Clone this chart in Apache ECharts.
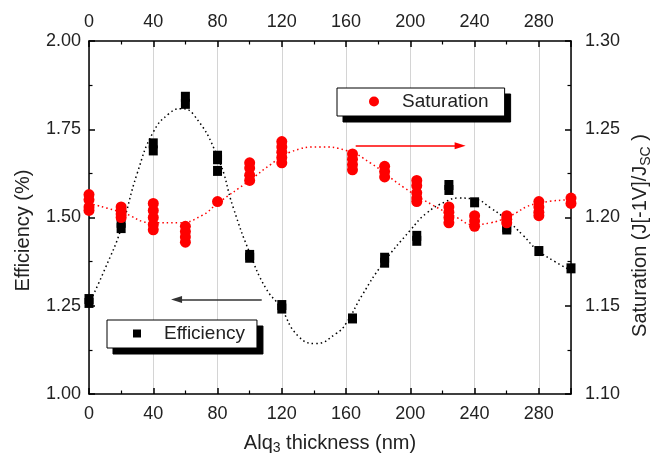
<!DOCTYPE html>
<html>
<head>
<meta charset="utf-8">
<script src="https://cdn.jsdelivr.net/npm/echarts@6/dist/echarts.min.js"></script>
<style>
  html, body { margin: 0; padding: 0; background: #fff; }
  #chart { width: 652px; height: 454px; }
</style>
</head>
<body>
<div id="chart"></div>
<script>
// Alq3 layer thickness (nm) for each measured device
const efficiencyX = [0, 0, 20, 20, 40, 40, 60, 60, 80, 80, 80, 100, 100, 120, 120, 164, 184, 184, 204, 204, 224, 224, 240, 260, 260, 280, 300];
// Power conversion efficiency (%)
const efficiencyY = [1.269, 1.258, 1.470, 1.485, 1.690, 1.710, 1.822, 1.842, 1.675, 1.665, 1.632, 1.394, 1.386, 1.252, 1.242, 1.214, 1.386, 1.372, 1.448, 1.434, 1.592, 1.578, 1.543, 1.472, 1.466, 1.405, 1.356];

const saturationX = [0, 0, 0, 0, 20, 20, 20, 20, 40, 40, 40, 40, 40, 60, 60, 60, 60, 80, 100, 100, 100, 100, 120, 120, 120, 120, 120, 164, 164, 164, 164, 184, 184, 184, 204, 204, 204, 204, 204, 224, 224, 224, 224, 240, 240, 240, 260, 260, 260, 280, 280, 280, 280, 300, 300];
// Saturation ratio J[-1V]/Jsc
const saturationY = [1.213, 1.210, 1.206, 1.204, 1.206, 1.204, 1.202, 1.200, 1.208, 1.204, 1.200, 1.196, 1.193, 1.195, 1.192, 1.189, 1.186, 1.209, 1.231, 1.228, 1.224, 1.221, 1.243, 1.240, 1.237, 1.234, 1.231, 1.236, 1.233, 1.230, 1.227, 1.229, 1.226, 1.223, 1.221, 1.218, 1.214, 1.211, 1.209, 1.206, 1.203, 1.200, 1.197, 1.201, 1.198, 1.195, 1.201, 1.199, 1.197, 1.209, 1.206, 1.203, 1.201, 1.211, 1.208];

// Guide-to-the-eye curves
const effFitX = [0, 10, 20, 30, 40, 50, 57, 65, 80, 90, 100, 110, 119, 130, 141, 154, 160, 170, 183, 200, 210, 222, 230, 240, 250, 260, 270, 279, 290, 300];
const effFitY = [1.255, 1.355, 1.468, 1.625, 1.742, 1.795, 1.808, 1.792, 1.672, 1.525, 1.400, 1.300, 1.247, 1.165, 1.143, 1.172, 1.200, 1.280, 1.370, 1.464, 1.512, 1.545, 1.555, 1.552, 1.527, 1.493, 1.450, 1.408, 1.375, 1.350];
const satFitX = [0, 20, 40, 56, 70, 80, 100, 113, 125, 144, 160, 175, 196, 214, 229, 239, 250, 260, 279, 300];
const satFitY = [1.208, 1.203, 1.197, 1.197, 1.201, 1.208, 1.221, 1.230, 1.237, 1.240, 1.238, 1.231, 1.217, 1.207, 1.200, 1.196, 1.197, 1.200, 1.208, 1.210];

// Direction arrows in data units (efficiency -> left axis, saturation -> right axis)
const effArrow = [[107.5, 1.268], [54.5, 1.268]];
const satArrow = [[166, 1.2407], [231, 1.2407]];

const xTicks = { min: 0, max: 300, interval: 40 };
const effTicks = { min: 1.0, max: 2.0, interval: 0.25 };
const satTicks = { min: 1.10, max: 1.30, interval: 0.05 };

const FONT = 'Liberation Sans, Arial, sans-serif';
const TXT = '#222';

const zip = (xs, ys) => xs.map((x, i) => [x, ys[i]]);

const axisBase = {
  axisLine: { show: true, onZero: false, lineStyle: { color: '#000', width: 1.5 } },
  axisTick: { show: true, inside: true, length: 6, lineStyle: { color: '#000', width: 1.5 } },
  minorTick: { show: true, splitNumber: 2, length: 3.5, lineStyle: { color: '#000', width: 1.2 } },
  axisLabel: { color: TXT, fontFamily: FONT, fontSize: 18 },
  splitLine: { show: false }
};

const nameRich = {
  a: { fontFamily: FONT, fontSize: 20, color: TXT },
  s: { fontFamily: FONT, fontSize: 14, color: TXT, verticalAlign: 'bottom', padding: [10, 0, 0, 0] }
};

// A legend box with a hard black drop shadow: a black copy sits underneath, offset by 6px
function legendBox(name, icon, size, left, top, padding) {
  const common = {
    data: [name], orient: 'horizontal', icon: icon,
    itemWidth: size, itemHeight: size, padding: padding,
    borderWidth: 1, selectedMode: false
  };
  return [
    Object.assign({}, common, {
      left: left + 6, top: top + 6, z: 9,
      backgroundColor: '#000', borderColor: '#000',
      itemStyle: { color: '#000' },
      textStyle: { fontFamily: FONT, fontSize: 19, color: '#000', padding: [0, 0, 0, 18] }
    }),
    Object.assign({}, common, {
      left: left, top: top, z: 10,
      backgroundColor: '#fff', borderColor: '#000',
      textStyle: { fontFamily: FONT, fontSize: 19, color: TXT, padding: [0, 0, 0, 18] }
    })
  ];
}

const chart = echarts.init(document.getElementById('chart'), null, { renderer: 'canvas' });

chart.setOption({
  animation: false,
  backgroundColor: '#fff',
  grid: { left: 89, right: 81, top: 41, bottom: 60, containLabel: false, outerBoundsMode: 'none' },
  xAxis: [
    Object.assign({}, axisBase, {
      type: 'value', position: 'bottom', ...xTicks,
      axisLabel: Object.assign({}, axisBase.axisLabel, { margin: 11, showMaxLabel: false }),
      splitLine: { show: true, lineStyle: { color: '#d4d4d4', width: 1 } },
      name: '{a|Alq}{s|3}{a| thickness (nm)}',
      nameLocation: 'middle', nameGap: 37,
      nameTextStyle: { rich: nameRich }
    }),
    Object.assign({}, axisBase, {
      type: 'value', position: 'top', ...xTicks,
      axisLabel: Object.assign({}, axisBase.axisLabel, { margin: 10, showMaxLabel: false })
    })
  ],
  yAxis: [
    Object.assign({}, axisBase, {
      type: 'value', position: 'left', ...effTicks,
      axisLabel: Object.assign({}, axisBase.axisLabel, { margin: 8, formatter: v => v.toFixed(2) }),
      name: 'Efficiency (%)', nameLocation: 'middle', nameGap: 56,
      nameTextStyle: { fontFamily: FONT, fontSize: 20, color: TXT, padding: [0, 26, 0, 0] }
    }),
    Object.assign({}, axisBase, {
      type: 'value', position: 'right', ...satTicks,
      axisLabel: Object.assign({}, axisBase.axisLabel, { margin: 14, formatter: v => v.toFixed(2) }),
      name: '{a|Saturation (J[-1V]/J}{s|SC}{a| )}', nameLocation: 'middle', nameGap: 53,
      nameTextStyle: { rich: nameRich, padding: [0, 36, 0, 0] }
    })
  ],
  legend: [
    ...legendBox('Saturation', 'circle', 10, 337, 88, [4, 16, 5, 32]),
    ...legendBox('Efficiency', 'rect', 8, 107, 320, [4, 12, 5, 26])
  ],
  series: [
    {
      name: 'effFit', type: 'line', xAxisIndex: 0, yAxisIndex: 0,
      data: zip(effFitX, effFitY), smooth: true, showSymbol: false, silent: true,
      lineStyle: { color: '#000', width: 1.5, type: [1.5, 3] }, z: 2
    },
    {
      name: 'satFit', type: 'line', xAxisIndex: 0, yAxisIndex: 1,
      data: zip(satFitX, satFitY), smooth: true, showSymbol: false, silent: true,
      lineStyle: { color: '#ff0000', width: 1.5, type: [1.5, 3] }, z: 2
    },
    {
      name: 'Efficiency', type: 'scatter', xAxisIndex: 0, yAxisIndex: 0,
      data: zip(efficiencyX, efficiencyY),
      symbol: 'rect', symbolSize: [9, 10],
      itemStyle: { color: '#000', opacity: 1 }, z: 3,
      markLine: {
        silent: true, symbol: ['none', 'triangle'], symbolSize: [7, 11],
        label: { show: false },
        lineStyle: { color: '#333', width: 1.5, type: 'solid' },
        data: [[{ coord: effArrow[0] }, { coord: effArrow[1] }]]
      }
    },
    {
      name: 'Saturation', type: 'scatter', xAxisIndex: 0, yAxisIndex: 1,
      data: zip(saturationX, saturationY),
      symbol: 'circle', symbolSize: 11,
      itemStyle: { color: '#ff0000', opacity: 1 }, z: 4,
      markLine: {
        silent: true, symbol: ['none', 'triangle'], symbolSize: [7, 11],
        label: { show: false },
        lineStyle: { color: '#ff0000', width: 1.5, type: 'solid' },
        data: [[{ coord: satArrow[0] }, { coord: satArrow[1] }]]
      }
    }
  ]
});
</script>
</body>
</html>
